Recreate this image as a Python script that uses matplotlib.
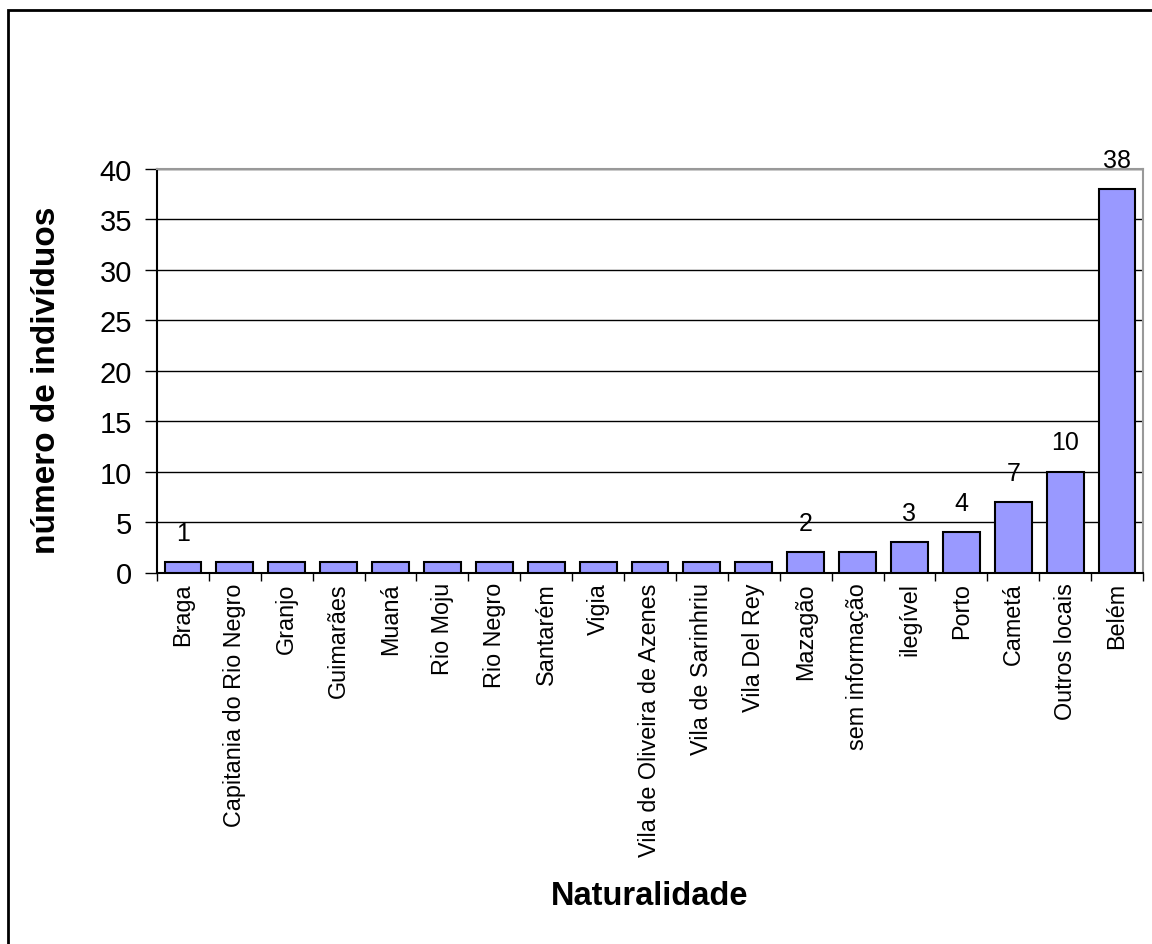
import matplotlib
matplotlib.use("Agg")
import matplotlib.pyplot as plt
from matplotlib.patches import Rectangle

categories = ["Braga", "Capitania do Rio Negro", "Granjo", "Guimarães", "Muaná",
              "Rio Moju", "Rio Negro", "Santarém", "Vigia",
              "Vila de Oliveira de Azenes", "Vila de Sarinhriu", "Vila Del Rey",
              "Mazagão", "sem informação", "ilegível", "Porto", "Cametá",
              "Outros locais", "Belém"]
values = [1, 1, 1, 1, 1, 1, 1, 1, 1, 1, 1, 1, 2, 2, 3, 4, 7, 10, 38]
shown_labels = {"Braga": "1", "Mazagão": "2", "ilegível": "3", "Porto": "4",
                "Cametá": "7", "Outros locais": "10", "Belém": "38"}
yticks = [0, 5, 10, 15, 20, 25, 30, 35, 40]

plt.rcParams['font.family'] = ['Liberation Sans', 'DejaVu Sans']

fig = plt.figure(figsize=(11.52, 9.45), dpi=100)
ax = fig.add_axes([157/1152, 1 - 573.5/945, (1143-157)/1152, (573.5-170)/945])

x = list(range(len(categories)))
ax.set_axisbelow(True)
ax.bar(x, values, width=0.71, color="#9999FF", edgecolor="black", linewidth=1.5, zorder=3)

for i, (c, v) in enumerate(zip(categories, values)):
    if c in shown_labels:
        ax.annotate(shown_labels[c], (i, v), xytext=(0, 21), textcoords="offset points",
                    ha="center", va="center", fontsize=18, zorder=4, annotation_clip=False)

ax.set_xlim(-0.5, len(categories) - 0.5)
ax.set_ylim(0, 40)
ax.set_yticks(yticks)
ax.set_yticklabels([str(t) for t in yticks], fontsize=21)
ax.yaxis.grid(True, color="black", linewidth=1)
ax.tick_params(axis="y", direction="out", length=9, width=1, pad=9)

ax.set_xticks([i + 0.5 for i in range(-1, len(categories))], minor=False)
ax.set_xticklabels([])
ax.tick_params(axis="x", which="major", direction="out", length=6, width=1)
ax.set_xticks(x, minor=True)
ax.set_xticklabels(categories, minor=True, rotation=90, fontsize=16.8)
ax.tick_params(axis="x", which="minor", length=0, pad=7)

for s in ["left", "bottom"]:
    ax.spines[s].set_color("black")
    ax.spines[s].set_linewidth(1.5)
for s in ["top", "right"]:
    ax.spines[s].set_color("#999999")
    ax.spines[s].set_linewidth(1.5)

ax.set_ylabel("número de indivíduos", fontsize=24, fontweight="bold", va="center")
ax.yaxis.set_label_coords((47 - 157) / (1143 - 157), 0.48, transform=ax.transAxes)
ax.set_xlabel("Naturalidade", fontsize=23.5, fontweight="bold", va="baseline")
ax.xaxis.set_label_coords(0.5, 1 - (905 - 170) / (573.5 - 170), transform=ax.transAxes)

fig.patches.append(Rectangle((8/1152, -0.1), 1.2, 1 - 11/945 + 0.1, transform=fig.transFigure,
                             fill=False, edgecolor="black", linewidth=2))

fig.savefig("out.png", dpi=100)
